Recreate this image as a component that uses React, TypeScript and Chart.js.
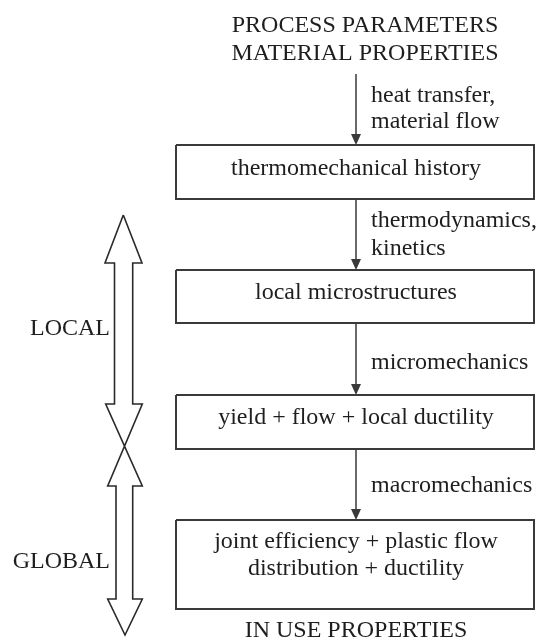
import { useEffect, useRef } from "react";
import { Chart, registerables } from "chart.js";

Chart.register(...registerables);

// ---- Content ----
const TITLE_LINES = ["PROCESS PARAMETERS", "MATERIAL PROPERTIES"];
const STAGES = [
  ["thermomechanical history"],
  ["local microstructures"],
  ["yield + flow + local ductility"],
  ["joint efficiency + plastic flow", "distribution + ductility"],
];
const TRANSITIONS = [
  ["heat transfer,", "material flow"],
  ["thermodynamics,", "kinetics"],
  ["micromechanics"],
  ["macromechanics"],
];
const FOOTER = "IN USE PROPERTIES";
const SCALE_LABELS = ["LOCAL", "GLOBAL"];

// ---- Layout (diagram units = pixels of a 536 x 640 sheet) ----
const W = 536;
const H = 640;
const BOX_LEFT = 176;
const BOX_RIGHT = 534;
const FLOW_X = 356;
const TITLE_X = 365;
const TITLE_BASE = [32, 60];
const TITLE_BOTTOM = 74;
const STAGE_TOP = [145, 270, 395, 520];
const STAGE_BOTTOM = [199, 323, 449, 609];
const STAGE_BASE = [[175], [299], [424], [548, 575]];
const TRANS_BASE = [[102, 128], [227, 255], [369], [492]];
const TRANS_X = 371;
const FOOTER_BASE = 637;
const SCALE_LABEL_X = 110;
const SCALE_LABEL_BASE = [335, 568];
// outline of the LOCAL / GLOBAL double arrow
const BIG_ARROW: [number, number][] = [
  [123.3, 215], [142, 263], [132.7, 263], [132.7, 404], [142.3, 404],
  [107.7, 486], [116, 486], [116, 599], [107.7, 599], [125, 635],
  [142.3, 599], [132.7, 599], [132.7, 486], [142.3, 486], [105.7, 404],
  [114.5, 404], [114.5, 263], [105, 263], [123.3, 215],
];
const HEAD_LEN = 11;
const HEAD_HALF = 5;

const LINE_COLOR = "#3a3a3a";
const TEXT_COLOR = "#1e1e1e";
const FONT = '24px "Liberation Serif", "Times New Roman", serif';

export default function App() {
  const ref = useRef<HTMLCanvasElement | null>(null);

  useEffect(() => {
    const canvas = ref.current;
    if (!canvas) return;

    const datasets: any[] = [];
    // boxes
    STAGE_TOP.forEach((t, i) => {
      const b = STAGE_BOTTOM[i];
      datasets.push({
        data: [
          { x: BOX_LEFT, y: t }, { x: BOX_RIGHT, y: t }, { x: BOX_RIGHT, y: b },
          { x: BOX_LEFT, y: b }, { x: BOX_LEFT, y: t },
        ],
        borderColor: LINE_COLOR,
        borderWidth: 2,
        showLine: true,
        pointRadius: 0,
        fill: false,
        tension: 0,
        borderJoinStyle: "miter",
      });
    });
    // flow arrow shafts
    STAGE_TOP.forEach((t, i) => {
      const start = i === 0 ? TITLE_BOTTOM : STAGE_BOTTOM[i - 1];
      datasets.push({
        data: [{ x: FLOW_X, y: start }, { x: FLOW_X, y: t - HEAD_LEN + 1 }],
        borderColor: LINE_COLOR,
        borderWidth: 1.5,
        showLine: true,
        pointRadius: 0,
        fill: false,
      });
    });
    // big double arrow
    datasets.push({
      data: BIG_ARROW.map(([x, y]) => ({ x, y })),
      borderColor: "#2a2a2a",
      borderWidth: 1.6,
      showLine: true,
      pointRadius: 0,
      fill: false,
      tension: 0,
      borderJoinStyle: "miter",
    });

    const drawPlugin = {
      id: "diagramText",
      afterDatasetsDraw(chart: any) {
        const { ctx, scales } = chart;
        const px = (v: number) => scales.x.getPixelForValue(v);
        const py = (v: number) => scales.y.getPixelForValue(v);
        ctx.save();
        // arrowheads
        ctx.fillStyle = LINE_COLOR;
        STAGE_TOP.forEach((t) => {
          ctx.beginPath();
          ctx.moveTo(px(FLOW_X), py(t));
          ctx.lineTo(px(FLOW_X - HEAD_HALF), py(t - HEAD_LEN));
          ctx.lineTo(px(FLOW_X + HEAD_HALF), py(t - HEAD_LEN));
          ctx.closePath();
          ctx.fill();
        });
        ctx.font = FONT;
        ctx.fillStyle = TEXT_COLOR;
        ctx.textBaseline = "alphabetic";
        // title
        ctx.textAlign = "center";
        TITLE_LINES.forEach((s, i) => ctx.fillText(s, px(TITLE_X), py(TITLE_BASE[i])));
        // stages
        STAGES.forEach((lines, i) =>
          lines.forEach((s, j) => ctx.fillText(s, px(FLOW_X), py(STAGE_BASE[i][j])))
        );
        ctx.fillText(FOOTER, px(FLOW_X), py(FOOTER_BASE));
        // transitions
        ctx.textAlign = "left";
        TRANSITIONS.forEach((lines, i) =>
          lines.forEach((s, j) => ctx.fillText(s, px(TRANS_X), py(TRANS_BASE[i][j])))
        );
        // scale labels
        ctx.textAlign = "right";
        SCALE_LABELS.forEach((s, i) => ctx.fillText(s, px(SCALE_LABEL_X), py(SCALE_LABEL_BASE[i])));
        ctx.restore();
      },
    };

    const chart = new Chart(canvas, {
      type: "scatter",
      data: { datasets },
      options: {
        animation: false,
        responsive: false,
        maintainAspectRatio: false,
        devicePixelRatio: 1,
        layout: { padding: 0 },
        plugins: { legend: { display: false }, tooltip: { enabled: false }, title: { display: false } },
        scales: {
          x: { type: "linear", min: 0, max: W, display: false },
          y: { type: "linear", min: 0, max: H, reverse: true, display: false },
        },
        elements: { line: { borderCapStyle: "butt" } },
      },
      plugins: [drawPlugin],
    });
    return () => chart.destroy();
  }, []);

  return (
    <div style={{ position: "absolute", left: 0, top: 0, width: W, height: H, background: "#fff" }}>
      <canvas ref={ref} width={W} height={H} style={{ width: W, height: H, display: "block" }} />
    </div>
  );
}
